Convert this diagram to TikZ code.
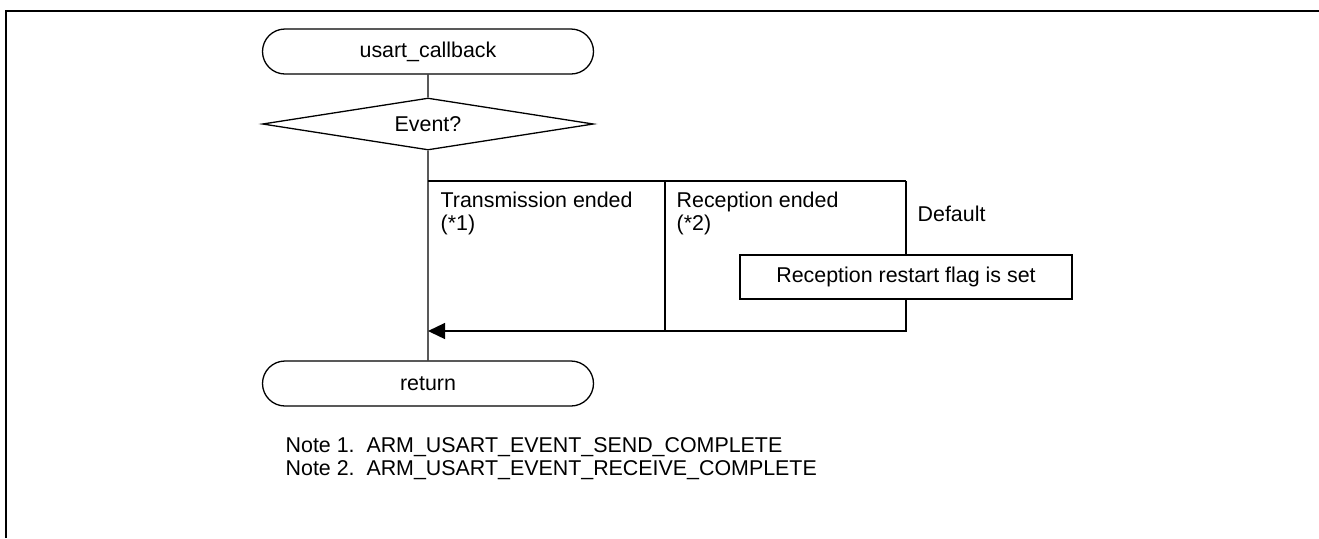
\documentclass[tikz,border=0pt]{standalone}
\usepackage{fontspec}
\setmainfont{Liberation Sans}
\usetikzlibrary{shapes.geometric,shapes.misc,arrows.meta}

\begin{document}
\begin{tikzpicture}[x=0.5pt,y=-0.5pt,line width=0.65pt,
	font=\fontsize{10.7}{11.5}\selectfont,
	term/.style={rounded rectangle, draw, minimum width=165.5pt, minimum height=22.5pt, inner sep=0pt},
	decision/.style={diamond, draw, aspect=6.4, minimum width=165.5pt, minimum height=26pt, inner sep=0pt},
	proc/.style={rectangle, draw, minimum width=166pt, minimum height=22pt, inner sep=0pt},
	lbl/.style={anchor=west, align=left, inner sep=0pt}]
	\useasboundingbox (0,0) rectangle (1319,538);
	\draw[line width=1pt] (6,538) -- (6,11) -- (1319,11);

	\node[term] (start) at (428,51.5) {usart\_callback};
	\node[decision] (event) at (428,124) {Event?};
	\node[proc] (flag) at (906,277) {Reception restart flag is set};
	\node[term] (ret) at (428,383.5) {return};

	\coordinate (split) at (428,181);
	\coordinate (rx) at (665,181);
	\coordinate (dflt) at (906,181);
	\coordinate (rxend) at (665,331);
	\coordinate (merge) at (428,331);

	\node[lbl] (txlbl) at (440,213.5) {Transmission ended\\(*1)};
	\node[lbl] (rxlbl) at (676,213.5) {Reception ended\\(*2)};
	\node[lbl] (dflbl) at (917,213.5) {Default};

	\draw (start) -- (event);
	\draw (event) -- (ret);
	\draw (split) -- (dflt);
	\draw (rx) -- (rxend);
	\draw (dflt) -- (flag);
	\draw[-{Triangle[length=8.5pt,width=8pt]}] (flag) |- (merge);

	\node[anchor=west, inner sep=0pt] (note1) at (285,447) {Note 1.~~ARM\_USART\_EVENT\_SEND\_COMPLETE};
	\node[anchor=west, inner sep=0pt] (note2) at (285,470) {Note 2.~~ARM\_USART\_EVENT\_RECEIVE\_COMPLETE};
\end{tikzpicture}
\end{document}
